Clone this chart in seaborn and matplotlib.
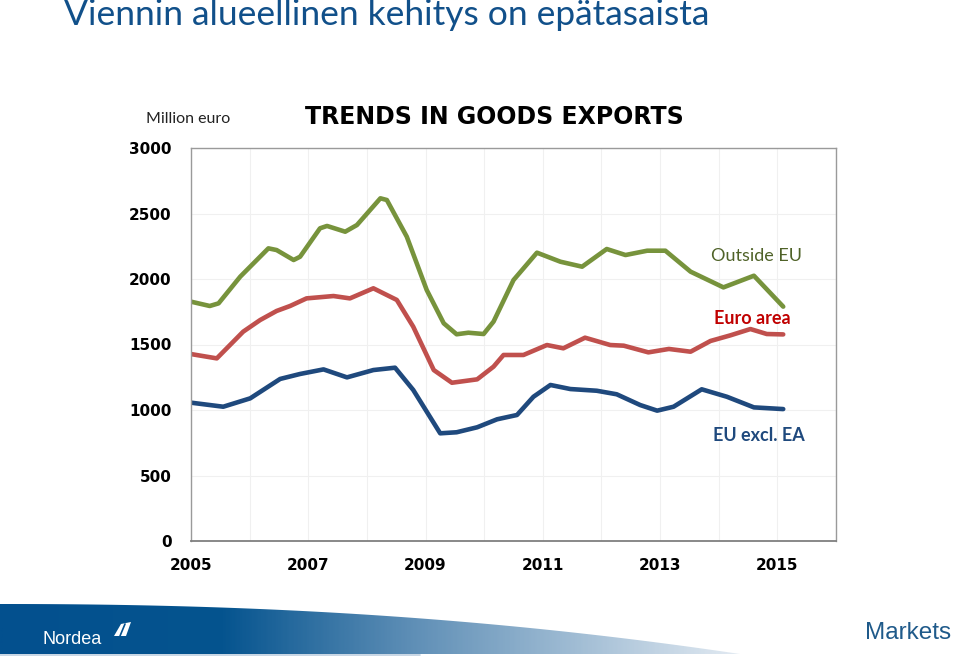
import matplotlib

matplotlib.use("Agg")

import matplotlib.colors as mcolors
import matplotlib.pyplot as plt
import numpy as np
import seaborn as sns
from matplotlib.patches import Polygon

# values (million euro)
years_outside = [2005.0, 2005.32, 2005.47, 2005.84, 2006.32, 2006.46, 2006.75, 2006.86,
                 2007.20, 2007.32, 2007.63, 2007.83, 2008.23, 2008.34, 2008.68, 2009.02,
                 2009.31, 2009.53, 2009.73, 2009.99, 2010.16, 2010.50, 2010.90, 2011.30,
                 2011.67, 2012.09, 2012.41, 2012.78, 2013.09, 2013.52, 2014.08, 2014.60,
                 2015.10]
outside_eu = [1827, 1794, 1814, 2018, 2234, 2221, 2145, 2170,
              2387, 2405, 2361, 2412, 2616, 2603, 2323, 1916,
              1662, 1578, 1590, 1580, 1675, 1992, 2201, 2132,
              2094, 2229, 2183, 2216, 2216, 2056, 1936, 2025,
              1789]

years_euro = [2005.0, 2005.44, 2005.89, 2006.18, 2006.46, 2006.69, 2006.97, 2007.43,
              2007.71, 2008.11, 2008.51, 2008.79, 2009.14, 2009.45, 2009.88, 2010.16,
              2010.33, 2010.67, 2011.07, 2011.35, 2011.72, 2012.15, 2012.38, 2012.80,
              2013.15, 2013.52, 2013.86, 2014.20, 2014.54, 2014.82, 2015.10]
euro_area = [1427, 1394, 1598, 1687, 1756, 1794, 1852, 1870,
             1852, 1929, 1840, 1636, 1305, 1208, 1234, 1331,
             1420, 1420, 1496, 1471, 1552, 1496, 1491, 1440,
             1466, 1445, 1527, 1570, 1618, 1580, 1577]

years_eu = [2005.0, 2005.55, 2006.01, 2006.52, 2006.86, 2007.26, 2007.66, 2008.11,
            2008.48, 2008.79, 2009.25, 2009.53, 2009.88, 2010.22, 2010.56, 2010.84,
            2011.13, 2011.47, 2011.92, 2012.26, 2012.66, 2012.95, 2013.23, 2013.71,
            2014.14, 2014.60, 2015.10]
eu_excl_ea = [1056, 1025, 1089, 1237, 1275, 1310, 1249, 1305,
              1323, 1153, 822, 830, 868, 929, 962, 1101,
              1191, 1160, 1147, 1120, 1038, 995, 1025, 1158,
              1101, 1020, 1007]

x_ticks = list(range(2005, 2017))
x_tick_labels = ["2005", "", "2007", "", "2009", "", "2011", "", "2013", "", "2015", ""]
y_ticks = [0, 500, 1000, 1500, 2000, 2500, 3000]
y_tick_labels = ["0", "500", "1000", "1500", "2000", "2500", "3000"]

W, H = 960, 658

sns.set_theme(style="white")
plt.rcParams["font.family"] = ["DejaVu Sans"]

fig = plt.figure(figsize=(W / 100, H / 100), dpi=100)
fig.patch.set_facecolor("white")

ax = fig.add_axes([191 / W, 1 - 541 / H, (836 - 191) / W, (541 - 148) / H])

series = [
    (years_outside, outside_eu, "#77933C"),
    (years_euro, euro_area, "#C0504D"),
    (years_eu, eu_excl_ea, "#1F497D"),
]
for xs, ys, color in series:
    sns.lineplot(x=xs, y=ys, ax=ax, color=color, linewidth=3.3,
                 solid_joinstyle="round", solid_capstyle="round")

ax.set_xlim(2005, 2016)
ax.set_ylim(0, 3000)
ax.set_xticks(x_ticks)
ax.set_xticklabels(x_tick_labels, fontsize=11, fontweight="bold", color="black")
ax.set_yticks(y_ticks)
ax.set_yticklabels(y_tick_labels, fontsize=11, fontweight="bold", color="black")
ax.tick_params(axis="x", direction="in", length=4, width=0.8, color="#808080", pad=12)
ax.tick_params(axis="y", length=0, pad=14)
ax.grid(True, color="#F0F0F0", linewidth=0.8)
ax.set_axisbelow(True)
for side in ["top", "right", "left"]:
    ax.spines[side].set_color("#9A9A9A")
    ax.spines[side].set_linewidth(1.0)
ax.spines["bottom"].set_color("#7F7F7F")
ax.spines["bottom"].set_linewidth(1.3)

ax.text(2014.65, 2176, "Outside EU", color="#4F6228", fontsize=13,
        family=["Lato", "DejaVu Sans"], ha="center", va="center")
ax.text(2014.57, 1702, "Euro area", color="#C00000", fontsize=13, fontweight="bold",
        family=["Lato", "DejaVu Sans"], ha="center", va="center")
ax.text(2014.69, 802, "EU excl. EA", color="#1F497D", fontsize=13, fontweight="bold",
        family=["Lato", "DejaVu Sans"], ha="center", va="center")

fig.text(64 / W, 1 - 15 / H, "Viennin alueellinen kehitys on epätasaista",
         color="#11508A", fontsize=25.5, family=["Lato", "DejaVu Sans"],
         ha="left", va="center")
fig.text(188 / W, 1 - 119 / H, "Million euro", color="#222222", fontsize=11.5,
         family=["Lato", "DejaVu Sans"], ha="center", va="center")
fig.text(494 / W, 1 - 117 / H, "TRENDS IN GOODS EXPORTS", color="black",
         fontsize=17, fontweight="bold", ha="center", va="center")

# footer band
fax = fig.add_axes([0, 0, 1, 60 / H])
fax.set_xlim(0, W)
fax.set_ylim(H, H - 60)
fax.axis("off")
grad_x = np.linspace(0, 1, 400)
cmap = mcolors.LinearSegmentedColormap.from_list(
    "band", [(0, "#03508E"), (0.3, "#05548F"), (0.55, "#5C8DB5"), (1, "#E2EAF2")])
band = fax.imshow(grad_x[np.newaxis, :], cmap=cmap, aspect="auto",
                  extent=[0, 740, 654, 603], zorder=1)
edge_x = np.linspace(0, 740, 60)
edge_y = 604 + 50 * (edge_x / 740) ** 2.2
poly_pts = list(zip(edge_x, edge_y)) + [(740, 654), (0, 654)]
clip = Polygon(poly_pts, closed=True, transform=fax.transData, facecolor="none",
               edgecolor="none")
fax.add_patch(clip)
band.set_clip_path(clip)
fax.plot([0, 420], [655, 655], color="#BFD0E0", linewidth=1.2, zorder=1)
fax.text(43, 639, "Nordea", color="white", fontsize=13,
         family=["Liberation Sans", "DejaVu Sans"], ha="left", va="center", zorder=3)
sail = Polygon([(114, 636), (121, 624), (131, 622), (126, 636)], closed=True,
               facecolor="white", edgecolor="none", zorder=3)
fax.add_patch(sail)
fax.plot([120, 125], [636, 624], color="#03508E", linewidth=1.2, zorder=4)
fax.text(908, 633, "Markets", color="#1F5A8A", fontsize=17.5,
         family=["Liberation Sans", "DejaVu Sans"], ha="center", va="center", zorder=3)

fig.savefig("out.png", dpi=100)
